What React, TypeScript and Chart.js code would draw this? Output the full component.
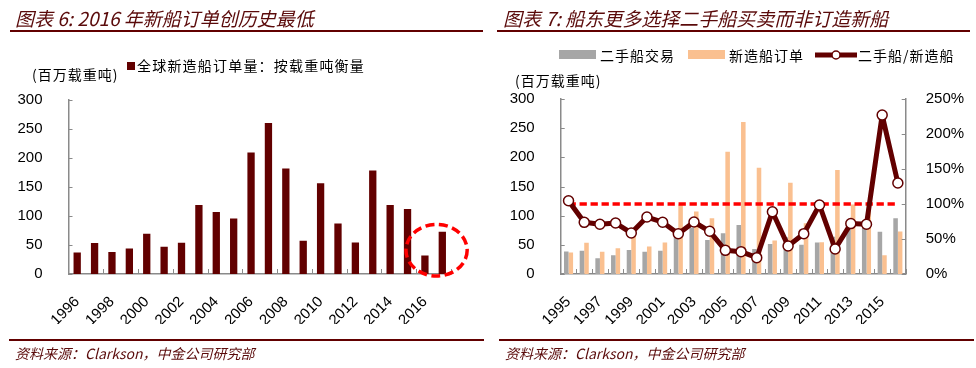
import React, { useEffect, useRef } from 'react';
import { Chart, registerables } from 'chart.js';

Chart.register(...registerables);

// ---------- Data: left chart (图表 6) ----------
const yearsA = ['1996', '1997', '1998', '1999', '2000', '2001', '2002', '2003', '2004', '2005', '2006', '2007', '2008', '2009', '2010', '2011', '2012', '2013', '2014', '2015', '2016', '2017'];
const shownYearsA = ['1996', '1998', '2000', '2002', '2004', '2006', '2008', '2010', '2012', '2014', '2016'];
const globalNewOrders = [37, 53.5, 38, 44, 69.5, 47, 54, 119, 107, 95.5, 209.5, 260.5, 182, 57.5, 156.5, 87, 54.5, 178.5, 119, 112, 32, 73];
const leftTicksY = [0, 50, 100, 150, 200, 250, 300];

// ---------- Data: right chart (图表 7) ----------
const yearsB = ['1995', '1996', '1997', '1998', '1999', '2000', '2001', '2002', '2003', '2004', '2005', '2006', '2007', '2008', '2009', '2010', '2011', '2012', '2013', '2014', '2015', '2016'];
const shownYearsB = ['1995', '1997', '1999', '2001', '2003', '2005', '2007', '2009', '2011', '2013', '2015'];
const secondHandSales = [38.5, 40, 27, 32, 41, 38, 40, 66, 79.5, 58.5, 70, 84, 43, 51.5, 63, 50, 54, 64, 84, 80, 72.5, 95.5];
const newBuildOrders = [37, 53.5, 38, 44, 69.5, 47, 54, 119, 107, 95.5, 209.5, 260.5, 182, 57.5, 156.5, 87, 54.5, 178.5, 119, 112, 32, 73];
const ratioPct = [104.7, 73.8, 71, 72.8, 58.6, 81.4, 74, 57.6, 74.3, 61, 33.8, 31.9, 23.3, 89, 40, 57.6, 98.6, 35.7, 72, 71, 227, 130];
const parityPct = [100, 100, 100, 100, 100, 100, 100, 100, 100, 100, 100, 100, 100, 100, 100, 100, 100, 100, 100, 100, 100, 100];
const rightTicksY1 = [0, 50, 100, 150, 200, 250];

// highlight ellipse around the 2016-2017 bars (in data units)
const highlight = { centerIndex: 20.67, centerValue: 41, radiusCats: 1.76, radiusValue: 44.5 };

const DARK = '#620000';
const AXIS = '#8a8a8a';
const TICK_FONT = { family: "'Liberation Sans', Arial, sans-serif", size: 15 };
const CJK = "'Noto Sans CJK SC', 'Noto Sans', sans-serif";

function inwardTicks(xEvery: number) {
  return {
    id: 'inwardTicks',
    afterDatasetsDraw(chart: any) {
      const ctx = chart.ctx;
      ctx.save();
      ctx.strokeStyle = AXIS;
      ctx.lineWidth = 1;
      ctx.beginPath();
      Object.values(chart.scales).forEach((s: any) => {
        if (s.axis === 'x') {
          const n = s.getLabels().length;
          const w = s.width / n;
          for (let i = xEvery; i <= n; i += xEvery) {
            const x = Math.round(s.left + i * w) + 0.5;
            ctx.moveTo(x, s.top);
            ctx.lineTo(x, s.top - 5);
          }
        } else {
          s.ticks.forEach((_t: any, i: number) => {
            const y = Math.round(s.getPixelForTick(i)) + 0.5;
            if (s.position === 'left') {
              ctx.moveTo(s.right, y);
              ctx.lineTo(s.right + 4, y);
            } else {
              ctx.moveTo(s.left, y);
              ctx.lineTo(s.left - 4, y);
            }
          });
        }
      });
      ctx.stroke();
      ctx.restore();
    },
  };
}

const ellipsePlugin = {
  id: 'highlightEllipse',
  afterDatasetsDraw(chart: any) {
    const x = chart.scales.x;
    const y = chart.scales.y;
    const cw = x.width / yearsA.length;
    const cx = x.getPixelForValue(Math.floor(highlight.centerIndex)) + (highlight.centerIndex % 1) * cw;
    const cy = y.getPixelForValue(highlight.centerValue);
    const rx = cw * highlight.radiusCats;
    const ry = Math.abs(y.getPixelForValue(0) - y.getPixelForValue(highlight.radiusValue));
    const ctx = chart.ctx;
    ctx.save();
    ctx.beginPath();
    ctx.setLineDash([9, 4.5]);
    ctx.strokeStyle = '#ff0000';
    ctx.lineWidth = 3.5;
    ctx.ellipse(cx, cy, rx, ry, 0, 0, Math.PI * 2);
    ctx.stroke();
    ctx.restore();
  },
};

function LeftChart() {
  const ref = useRef<HTMLCanvasElement>(null);
  useEffect(() => {
    const chart = new Chart(ref.current!, {
      type: 'bar',
      data: {
        labels: yearsA,
        datasets: [
          {
            label: '全球新造船订单量：按载重吨衡量',
            data: globalNewOrders,
            backgroundColor: DARK,
            categoryPercentage: 1,
            barPercentage: 0.42,
          },
        ],
      },
      options: {
        animation: false,
        responsive: false,
        events: [],
        layout: { padding: { left: 0, top: 100, right: 37, bottom: 44 } },
        plugins: { legend: { display: false }, tooltip: { enabled: false } },
        scales: {
          x: {
            grid: { display: false },
            border: { color: AXIS, width: 1.5 },
            ticks: {
              autoSkip: false,
              minRotation: 45,
              maxRotation: 45,
              padding: 11,
              color: '#000',
              font: TICK_FONT,
              callback: (_v: any, i: number) => (shownYearsA.includes(yearsA[i]) ? yearsA[i] : ''),
            },
            afterFit: (s: any) => {
              s.height = 50;
            },
          },
          y: {
            min: leftTicksY[0],
            max: leftTicksY[leftTicksY.length - 1],
            grid: { display: false },
            border: { color: AXIS, width: 1.5 },
            ticks: { stepSize: 50, padding: 18, color: '#000', font: TICK_FONT },
            afterFit: (s: any) => {
              s.width = 68.5;
            },
          },
        },
      } as any,
      plugins: [inwardTicks(2), ellipsePlugin],
    });
    return () => chart.destroy();
  }, []);
  return <canvas ref={ref} width={488} height={368} style={{ position: 'absolute', left: 0, top: 0, width: 488, height: 368 }} />;
}

function RightChart() {
  const ref = useRef<HTMLCanvasElement>(null);
  useEffect(() => {
    const chart = new Chart(ref.current!, {
      type: 'bar',
      data: {
        labels: yearsB,
        datasets: [
          {
            type: 'line',
            label: '二手船/新造船',
            data: ratioPct,
            yAxisID: 'y1',
            order: 0,
            borderColor: DARK,
            borderWidth: 5,
            borderJoinStyle: 'round',
            tension: 0,
            pointRadius: 5,
            pointBorderWidth: 1.5,
            pointBackgroundColor: '#ffffff',
            pointBorderColor: DARK,
          },
          {
            type: 'line',
            label: '100%',
            data: parityPct,
            yAxisID: 'y1',
            order: 1,
            borderColor: '#ff0000',
            borderWidth: 3.5,
            borderDash: [7.3, 3.7],
            pointRadius: 0,
          },
          {
            label: '二手船交易',
            data: secondHandSales,
            yAxisID: 'y',
            order: 2,
            backgroundColor: '#a6a6a6',
            categoryPercentage: 0.58,
            barPercentage: 1,
          },
          {
            label: '新造船订单',
            data: newBuildOrders,
            yAxisID: 'y',
            order: 3,
            backgroundColor: '#fac090',
            categoryPercentage: 0.58,
            barPercentage: 1,
          },
        ],
      },
      options: {
        animation: false,
        responsive: false,
        events: [],
        layout: { padding: { left: 0, top: 99, right: 10, bottom: 44 } },
        plugins: { legend: { display: false }, tooltip: { enabled: false } },
        scales: {
          x: {
            grid: { display: false },
            border: { color: AXIS, width: 1.5 },
            ticks: {
              autoSkip: false,
              minRotation: 45,
              maxRotation: 45,
              padding: 11,
              color: '#000',
              font: TICK_FONT,
              callback: (_v: any, i: number) => (shownYearsB.includes(yearsB[i]) ? yearsB[i] : ''),
            },
            afterFit: (s: any) => {
              s.height = 50;
            },
          },
          y: {
            position: 'left',
            min: 0,
            max: 300,
            grid: { display: false },
            border: { color: AXIS, width: 1.5 },
            ticks: { stepSize: 50, padding: 18, color: '#000', font: TICK_FONT },
            afterFit: (s: any) => {
              s.width = 72.7;
            },
          },
          y1: {
            position: 'right',
            min: rightTicksY1[0],
            max: rightTicksY1[rightTicksY1.length - 1],
            grid: { display: false },
            border: { color: AXIS, width: 1.5 },
            ticks: { stepSize: 50, padding: 12, color: '#000', font: TICK_FONT, callback: (v: any) => v + '%' },
            afterFit: (s: any) => {
              s.width = 60.3;
            },
          },
        },
      } as any,
      plugins: [inwardTicks(1)],
    });
    return () => chart.destroy();
  }, []);
  return <canvas ref={ref} width={488} height={368} style={{ position: 'absolute', left: 488, top: 0, width: 488, height: 368 }} />;
}

const abs = (left: number, top: number, extra: any = {}) => ({ position: 'absolute' as const, left, top, whiteSpace: 'nowrap' as const, ...extra });

export default function App() {
  useEffect(() => {
    document.body.style.margin = '0';
    document.body.style.overflow = 'hidden';
  }, []);
  const titleStyle = { fontFamily: CJK, fontStyle: 'italic', fontSize: 19, lineHeight: '24px', color: '#5a0a0a' };
  const srcStyle = { fontFamily: CJK, fontStyle: 'italic', fontSize: 14, lineHeight: '18px', color: '#5a0a0a' };
  const lblStyle = { fontFamily: CJK, fontSize: 14, lineHeight: '18px', color: '#000', letterSpacing: '1px' };
  return (
    <div style={{ position: 'absolute', left: 0, top: 0, width: 976, height: 368, background: '#fff', overflow: 'hidden' }}>
      <LeftChart />
      <RightChart />

      {/* left panel text */}
      <div style={abs(15, 6, titleStyle)}>图表 6: 2016 年新船订单创历史最低</div>
      <div style={abs(10, 30, { width: 473, height: 2, background: DARK })} />
      <div style={abs(127, 61.5, { width: 8, height: 8, background: DARK })} />
      <div style={abs(137, 56, { ...lblStyle, letterSpacing: '1.2px' })}>全球新造船订单量：按载重吨衡量</div>
      <div style={abs(32, 65, lblStyle)}>(百万载重吨)</div>
      <div style={abs(9, 339, { width: 475, height: 2, background: DARK })} />
      <div style={abs(15, 344, srcStyle)}>资料来源：Clarkson，中金公司研究部</div>

      {/* right panel text */}
      <div style={abs(503, 6, titleStyle)}>图表 7: 船东更多选择二手船买卖而非订造新船</div>
      <div style={abs(497, 30, { width: 473, height: 2, background: DARK })} />
      <div style={abs(559, 50, { width: 37, height: 9, background: '#a6a6a6' })} />
      <div style={abs(600, 45.5, lblStyle)}>二手船交易</div>
      <div style={abs(688, 50, { width: 37, height: 9, background: '#fac090' })} />
      <div style={abs(729, 45.5, lblStyle)}>新造船订单</div>
      <svg style={abs(815, 49.5)} width={42} height={10}>
        <line x1={0} y1={5} x2={42} y2={5} stroke={DARK} strokeWidth={5} />
        <circle cx={21} cy={5} r={4} fill="#fff" stroke={DARK} strokeWidth={1.5} />
      </svg>
      <div style={abs(858, 45.5, lblStyle)}>二手船/新造船</div>
      <div style={abs(515, 71, lblStyle)}>(百万载重吨)</div>
      <div style={abs(499, 339, { width: 475, height: 2, background: DARK })} />
      <div style={abs(505, 344, srcStyle)}>资料来源：Clarkson，中金公司研究部</div>
    </div>
  );
}
